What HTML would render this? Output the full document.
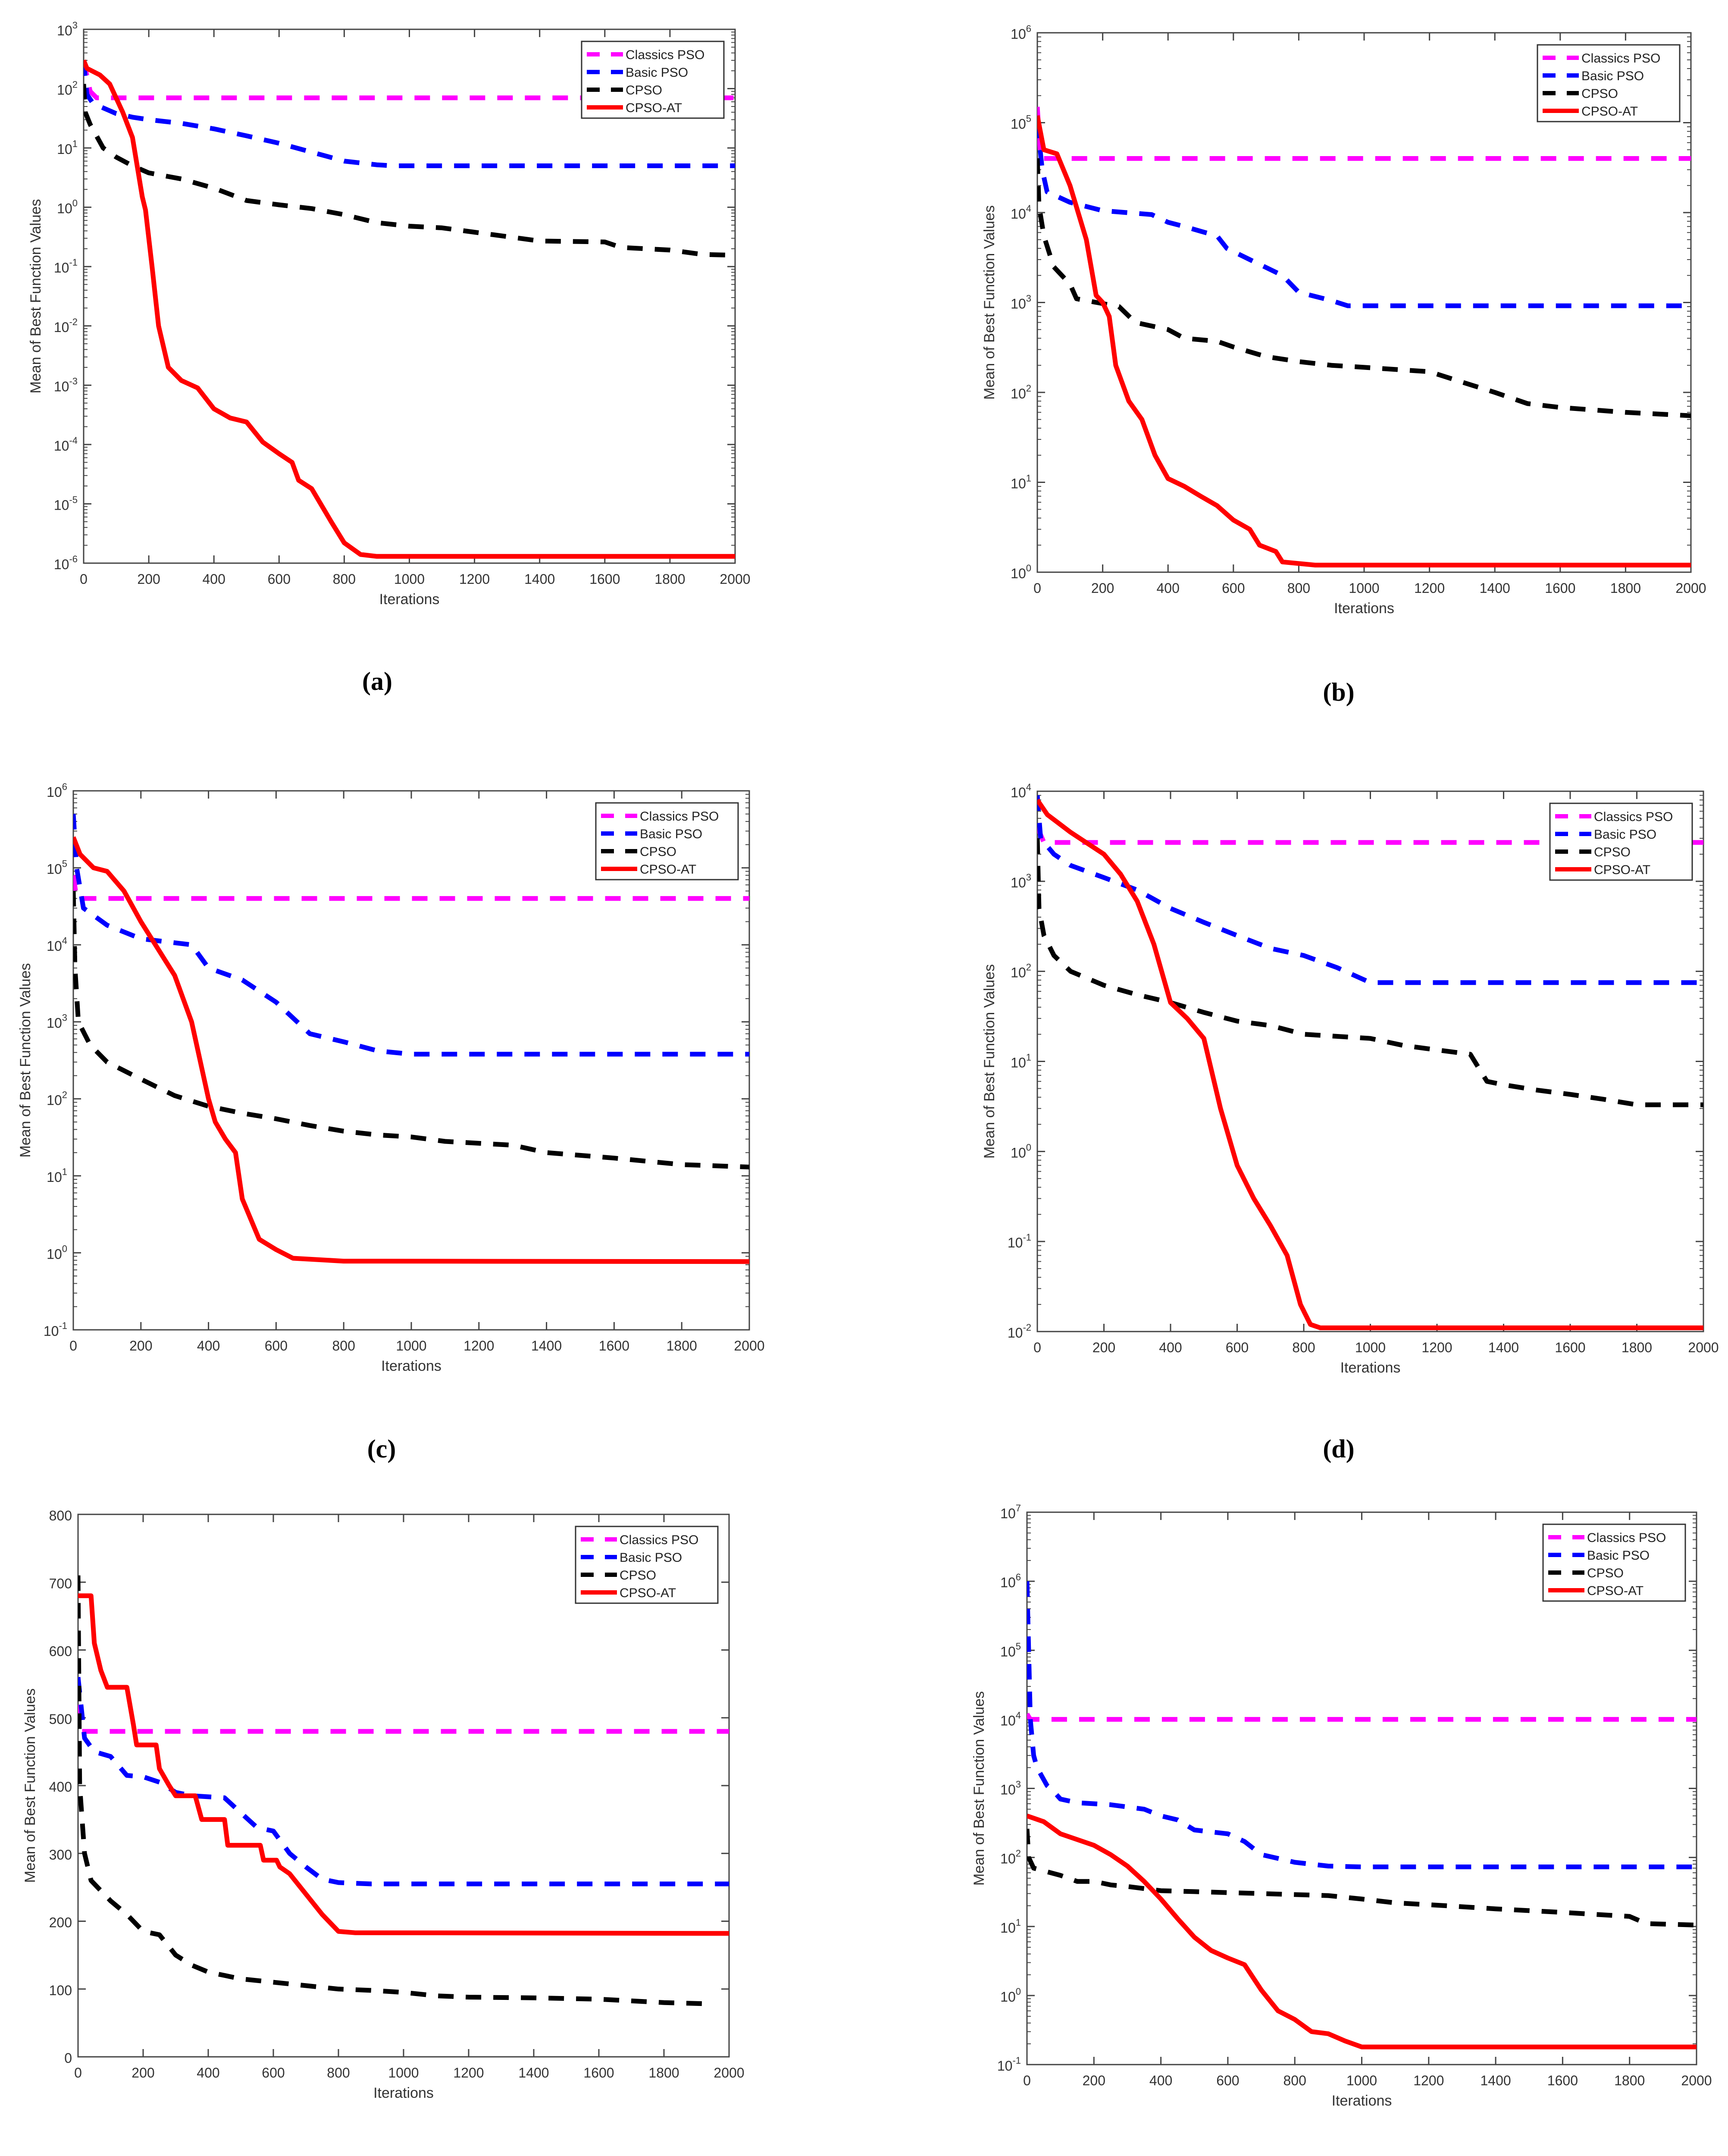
<!DOCTYPE html>
<html><head><meta charset="utf-8">
<style>
html,body{margin:0;padding:0;background:#fff;width:4008px;height:5158px;overflow:hidden;}
svg{display:block;position:absolute;left:0;top:0;}
text{font-family:"Liberation Sans",sans-serif;}
</style></head>
<body>
<svg id="fig" xmlns="http://www.w3.org/2000/svg" width="4008" height="5158" viewBox="0 0 4008 5158" overflow="hidden"></svg>
<script>
// ---- data (x = iteration, y = mean best value) ----
const xTicks = [0,200,400,600,800,1000,1200,1400,1600,1800,2000];
const seriesNames = ["Classics PSO","Basic PSO","CPSO","CPSO-AT"];

const aClassic = [[0,300],[20,90],[40,70],[2000,70]];
const aBasic = [[0,300],[10,80],[30,55],[50,50],[100,38],[150,33],[200,30],[300,26],[400,21],[500,16],[600,12],[700,8.5],[800,6],[900,5.2],[950,5],[2000,5]];
const aCpso = [[0,120],[5,40],[20,25],[60,10],[100,7],[150,5],[200,3.8],[300,3],[400,2.1],[500,1.3],[600,1.1],[700,0.95],[800,0.75],[900,0.55],[1000,0.48],[1100,0.45],[1200,0.38],[1300,0.32],[1400,0.27],[1600,0.26],[1650,0.21],[1800,0.19],[1900,0.16],[2000,0.155]];
const aAt = [[0,300],[10,220],[50,170],[80,120],[120,40],[150,15],[180,1.5],[190,0.9],[210,0.1],[230,0.01],[260,0.002],[300,0.0012],[350,0.0009],[400,0.0004],[450,0.00028],[500,0.00024],[550,0.00011],[600,0.00007],[640,0.00005],[660,0.000025],[700,0.000018],[760,0.000005],[800,0.0000022],[850,0.0000014],[900,0.0000013],[2000,0.0000013]];

const bClassic = [[0,150000],[10,40000],[2000,40000]];
const bBasic = [[0,100000],[15,30000],[30,17000],[100,13000],[200,10500],[350,9500],[400,7800],[450,7000],[500,6200],[550,5500],[580,4000],[650,3000],[750,2000],[800,1300],[900,1050],[950,920],[2000,920]];
const bCpso = [[0,40000],[5,12000],[20,5500],[50,2500],[100,1600],[120,1100],[250,900],[300,600],[400,500],[450,400],[550,370],[600,320],[700,250],[800,220],[900,200],[1000,190],[1200,170],[1300,130],[1400,100],[1500,75],[1600,68],[1800,60],[2000,55]];
const bAt = [[0,120000],[20,50000],[60,45000],[100,20000],[150,5000],[180,1200],[200,1000],[220,700],[240,200],[280,80],[320,50],[360,20],[400,11],[450,9],[500,7],[550,5.5],[600,3.8],[650,3],[680,2],[730,1.7],[750,1.3],[850,1.2],[2000,1.2]];

const cClassic = [[0,80000],[10,40000],[2000,40000]];
const cBasic = [[0,500000],[10,100000],[30,30000],[100,18000],[200,12000],[350,10000],[400,5000],[500,3500],[600,1800],[700,700],[800,550],[900,420],[1000,380],[2000,380]];
const cCpso = [[0,50000],[5,5000],[15,1000],[50,500],[100,300],[200,180],[300,110],[400,80],[500,65],[600,55],[700,45],[800,38],[900,34],[1000,32],[1100,28],[1300,25],[1400,20],[1600,17],[1800,14],[2000,13]];
const cAt = [[0,250000],[20,150000],[60,100000],[100,90000],[150,50000],[200,20000],[300,4000],[350,1000],[400,100],[420,50],[450,30],[480,20],[500,5],[550,1.5],[600,1.1],[650,0.85],[800,0.78],[2000,0.77]];

const dClassic = [[0,4000],[20,2700],[2000,2700]];
const dBasic = [[0,9000],[10,3000],[50,2000],[100,1500],[200,1100],[300,800],[400,500],[500,350],[600,250],[700,180],[800,150],[900,110],[1000,75],[2000,75]];
const dCpso = [[0,3000],[5,500],[20,250],[50,150],[100,100],[200,70],[300,55],[400,45],[500,35],[600,28],[700,25],[800,20],[1000,18],[1100,15],[1300,12],[1350,6],[1400,5.5],[1500,4.8],[1600,4.3],[1700,3.8],[1800,3.3],[2000,3.3]];
const dAt = [[0,8000],[30,5500],[100,3500],[200,2000],[250,1200],[300,600],[350,200],[400,45],[450,30],[500,18],[550,3],[600,0.7],[650,0.3],[700,0.15],[750,0.07],[790,0.02],[820,0.012],[850,0.011],[2000,0.011]];

const eClassic = [[0,560],[10,480],[2000,480]];
const eBasic = [[0,560],[20,470],[50,450],[100,443],[150,415],[200,413],[250,405],[300,390],[350,385],[450,382],[500,360],[550,338],[600,333],[650,300],[700,280],[750,262],[800,257],[900,255],[2000,255]];
const eCpso = [[0,710],[5,400],[20,300],[40,260],[100,230],[150,210],[200,185],[250,180],[300,150],[350,135],[400,125],[450,120],[500,115],[600,110],[700,105],[800,100],[900,98],[1000,95],[1100,90],[1200,88],[1400,87],[1600,85],[1800,80],[1950,78]];
const eAt = [[0,680],[40,680],[50,610],[70,570],[90,545],[150,545],[170,490],[180,460],[240,460],[250,425],[280,400],[300,385],[360,385],[380,350],[450,350],[460,312],[560,312],[570,290],[610,290],[620,280],[650,270],[700,240],[750,210],[800,185],[850,183],[2000,182]];
const eTicks = [0,100,200,300,400,500,600,700,800];

const fClassic = [[0,12000],[10,10000],[2000,10000]];
const fBasic = [[0,1000000],[10,10000],[20,3000],[30,2000],[60,1100],[80,900],[100,700],[150,620],[250,580],[350,500],[400,400],[450,350],[500,250],[600,220],[650,170],[700,110],[800,85],[900,75],[1000,73],[2000,73]];
const fCpso = [[0,260],[5,100],[20,70],[100,55],[150,45],[200,45],[250,40],[300,38],[400,33],[500,32],[700,30],[900,28],[1000,25],[1100,22],[1250,20],[1400,18],[1600,16],[1800,14],[1850,11],[2000,10.5]];
const fAt = [[0,400],[50,330],[100,220],[200,150],[250,110],[300,75],[350,45],[400,25],[450,13],[500,7],[550,4.5],[600,3.5],[650,2.8],[700,1.2],[750,0.6],[800,0.45],[850,0.3],[900,0.28],[950,0.22],[1000,0.18],[2000,0.18]];

const panels = [
 {id:"a",box:[194,68,1705,1306],log:true,ymin:-6,ymax:3,series:[aClassic,aBasic,aCpso,aAt],cap:[875,1600]},
 {id:"b",box:[2406,76,3922,1327],log:true,ymin:0,ymax:6,series:[bClassic,bBasic,bCpso,bAt],cap:[3105,1625]},
 {id:"c",box:[170,1834,1738,3084],log:true,ymin:-1,ymax:6,series:[cClassic,cBasic,cCpso,cAt],cap:[885,3380]},
 {id:"d",box:[2406,1835,3951,3088],log:true,ymin:-2,ymax:4,series:[dClassic,dBasic,dCpso,dAt],cap:[3105,3380]},
 {id:"e",box:[181,3512,1691,4770],log:false,ymin:0,ymax:800,ticks:eTicks,series:[eClassic,eBasic,eCpso,eAt],cap:[890,5075]},
 {id:"f",box:[2382,3507,3935,4788],log:true,ymin:-1,ymax:7,series:[fClassic,fBasic,fCpso,fAt],cap:[3105,5075]}
];
const colors = ["#ff00ff","#0000ff","#000000","#ff0000"];
const dashes = ["36 28","36 28","36 28",""];

const NS="http://www.w3.org/2000/svg";
const fig=document.getElementById("fig");
function mk(tag,attrs,parent){const e=document.createElementNS(NS,tag);for(const k in attrs)e.setAttribute(k,attrs[k]);(parent||fig).appendChild(e);return e;}

panels.forEach(p=>{
  const [x0,y0,x1,y1]=p.box;
  const g=mk("g",{});
  
  
  const sx=v=>x0+(v/2000)*(x1-x0);
  const sy=v=>{const t=p.log?Math.log10(v):v;return y1-(t-p.ymin)/(p.ymax-p.ymin)*(y1-y0);};
  const frame=mk("rect",{x:x0,y:y0,width:x1-x0,height:y1-y0,fill:"#fff",stroke:"#444","stroke-width":3},g);
  
  
  xTicks.forEach(t=>{
    const X=sx(t);
    mk("line",{x1:X,y1:y1,x2:X,y2:y1-18,stroke:"#444","stroke-width":3},g);
    mk("line",{x1:X,y1:y0,x2:X,y2:y0+18,stroke:"#444","stroke-width":3},g);
    const tl=mk("text",{x:X,y:y1+48,"text-anchor":"middle","font-size":32,fill:"#333"},g);
    tl.textContent=t;
    
    
  });
  const yt=[];
  if(p.log){for(let k=p.ymin;k<=p.ymax;k++)yt.push(k);} else yt.push(...p.ticks);
  yt.forEach(k=>{
    const Y=p.log?sy(Math.pow(10,k)):sy(k);
    mk("line",{x1:x0,y1:Y,x2:x0+18,y2:Y,stroke:"#444","stroke-width":3},g);
    mk("line",{x1:x1,y1:Y,x2:x1-18,y2:Y,stroke:"#444","stroke-width":3},g);
    const tl=mk("text",{x:x0-14,y:Y+14,"text-anchor":"end","font-size":32,fill:"#333"},g);
    
    
    if(p.log){
      const b=mk("tspan",{},tl);b.textContent="10";
      const s=mk("tspan",{dy:-16,"font-size":22},tl);s.textContent=String(k);
    } else tl.textContent=k;
    if(p.log&&k<p.ymax){
      for(let m=2;m<10;m++){const Ym=sy(m*Math.pow(10,k));
        mk("line",{x1:x0,y1:Ym,x2:x0+9,y2:Ym,stroke:"#444","stroke-width":2},g);
        mk("line",{x1:x1,y1:Ym,x2:x1-9,y2:Ym,stroke:"#444","stroke-width":2},g);}
    }
  });
  const xl=mk("text",{x:(x0+x1)/2,y:y1+95,"text-anchor":"middle","font-size":34,fill:"#333"},g);
  xl.textContent="Iterations";
  
  
  const yc=(y0+y1)/2, yx=x0-100;
  const yl=mk("text",{x:yx,y:yc,"text-anchor":"middle","font-size":34,fill:"#333",transform:`rotate(-90 ${yx} ${yc})`},g);
  yl.textContent="Mean of Best Function Values";
  
  
  const clip=mk("clipPath",{id:"clip"+p.id},g);
  mk("rect",{x:x0,y:y0,width:x1-x0,height:y1-y0},clip);
  p.series.forEach((s,i)=>{
    const pts=s.map(d=>sx(d[0]).toFixed(1)+","+sy(d[1]).toFixed(1)).join(" ");
    const pl=mk("polyline",{points:pts,fill:"none",stroke:colors[i],"stroke-width":11,"stroke-linejoin":"round","clip-path":`url(#clip${p.id})`},g);
    if(dashes[i])pl.setAttribute("stroke-dasharray",dashes[i]);
    
    
  });
  const lw=330, lh=178, lx=x1-lw-26, ly=y0+28;
  const lg=mk("g",{},g);
  
  
  mk("rect",{x:lx,y:ly,width:lw,height:lh,fill:"#fff",stroke:"#333","stroke-width":3},lg);
  seriesNames.forEach((n,i)=>{
    const ry=ly+30+i*41;
    const ln=mk("line",{x1:lx+12,y1:ry,x2:lx+96,y2:ry,stroke:colors[i],"stroke-width":10},lg);
    if(dashes[i])ln.setAttribute("stroke-dasharray","30 26");
    const t=mk("text",{x:lx+102,y:ry+11,"font-size":30,fill:"#222"},lg);
    t.textContent=n;
    
    
  });
  const c=mk("text",{x:p.cap[0],y:p.cap[1],"text-anchor":"middle","font-size":60,"font-weight":"bold",fill:"#000",style:'font-family:"Liberation Serif",serif'},g);
  c.textContent="("+p.id+")";
  
  
});
</script>
</body></html>
